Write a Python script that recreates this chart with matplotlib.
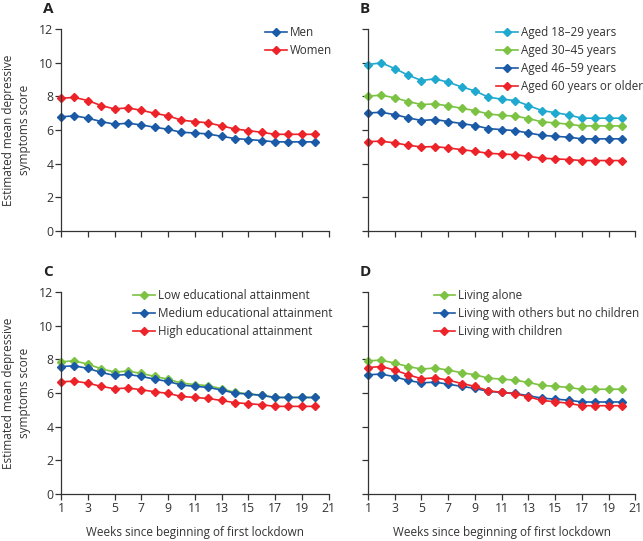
import numpy as np
import matplotlib.pyplot as plt

plt.rcParams['font.family'] = ['Open Sans', 'DejaVu Sans']

weeks = np.arange(1, 21)

# panel A: sex
men = [6.79, 6.85, 6.71, 6.51, 6.35, 6.41, 6.31, 6.17, 6.05, 5.87,
       5.83, 5.77, 5.63, 5.50, 5.44, 5.38, 5.30, 5.30, 5.30, 5.30]
women = [7.90, 7.94, 7.76, 7.46, 7.26, 7.32, 7.18, 7.00, 6.85, 6.59,
         6.51, 6.43, 6.25, 6.07, 5.97, 5.87, 5.75, 5.75, 5.75, 5.75]

# panel B: age
age_18_29 = [9.90, 10.00, 9.66, 9.27, 8.95, 9.05, 8.85, 8.57, 8.33, 7.96,
             7.84, 7.76, 7.46, 7.16, 7.04, 6.90, 6.71, 6.71, 6.71, 6.71]
age_30_45 = [8.02, 8.08, 7.92, 7.70, 7.52, 7.56, 7.44, 7.30, 7.16, 6.96,
             6.88, 6.83, 6.69, 6.49, 6.43, 6.35, 6.25, 6.25, 6.25, 6.25]
age_46_59 = [7.02, 7.06, 6.92, 6.73, 6.57, 6.63, 6.51, 6.39, 6.27, 6.09,
             6.03, 5.97, 5.83, 5.69, 5.63, 5.58, 5.48, 5.48, 5.48, 5.48]
age_60 = [5.32, 5.34, 5.24, 5.10, 5.00, 5.02, 4.94, 4.84, 4.74, 4.62,
          4.58, 4.54, 4.44, 4.33, 4.29, 4.25, 4.19, 4.19, 4.19, 4.19]

# panel C: education
edu_low = [7.86, 7.92, 7.72, 7.45, 7.25, 7.31, 7.17, 6.99, 6.83, 6.59,
           6.51, 6.44, 6.26, 6.04, 5.96, 5.88, 5.74, 5.74, 5.74, 5.74]
edu_med = [7.58, 7.62, 7.47, 7.23, 7.05, 7.11, 6.99, 6.83, 6.69, 6.48,
           6.40, 6.34, 6.18, 6.00, 5.94, 5.86, 5.74, 5.74, 5.74, 5.74]
edu_high = [6.67, 6.71, 6.59, 6.40, 6.26, 6.30, 6.20, 6.08, 5.98, 5.80,
            5.74, 5.68, 5.56, 5.43, 5.37, 5.31, 5.21, 5.21, 5.21, 5.21]

# panel D: living situation
alone = [7.92, 7.96, 7.78, 7.58, 7.43, 7.49, 7.37, 7.21, 7.09, 6.89,
         6.83, 6.77, 6.63, 6.46, 6.40, 6.34, 6.22, 6.23, 6.23, 6.23]
others = [7.09, 7.13, 6.97, 6.75, 6.61, 6.65, 6.53, 6.40, 6.28, 6.10,
          6.04, 5.98, 5.84, 5.70, 5.64, 5.58, 5.47, 5.47, 5.47, 5.47]
children = [7.52, 7.58, 7.37, 7.09, 6.85, 6.91, 6.77, 6.57, 6.40, 6.14,
            6.04, 5.96, 5.78, 5.56, 5.49, 5.39, 5.25, 5.25, 5.25, 5.25]

BLUE = '#1b5aa6'
RED = '#ec2329'
CYAN = '#1fa9cf'
GREEN = '#7cc243'

panels = [
    ('A', [('Men', men, BLUE), ('Women', women, RED)]),
    ('B', [('Aged 18\u201329 years', age_18_29, CYAN),
           ('Aged 30\u201345 years', age_30_45, GREEN),
           ('Aged 46\u201359 years', age_46_59, BLUE),
           ('Aged 60 years or older', age_60, RED)]),
    ('C', [('Low educational attainment', edu_low, GREEN),
           ('Medium educational attainment', edu_med, BLUE),
           ('High educational attainment', edu_high, RED)]),
    ('D', [('Living alone', alone, GREEN),
           ('Living with others but no children', others, BLUE),
           ('Living with children', children, RED)]),
]

fig = plt.figure(figsize=(6.43, 5.41), dpi=100)
lefts = [0.0949, 0.5723]
bottoms = [0.573, 0.0869]
w, h = 0.416, 0.373
leg_x = [0.762, 0.478, 0.27, 0.245]
letter_x = [-0.067, -0.03]

for i, (lab, series) in enumerate(panels):
    row, col = divmod(i, 2)
    ax = fig.add_axes([lefts[col], bottoms[row], w, h])
    for name, vals, c in series:
        ax.plot(weeks, vals, color=c, lw=1.2, marker='D', ms=4.2,
                label=name, clip_on=False)
    ax.set_xlim(1, 21)
    ax.set_ylim(0, 12)
    ax.set_xticks(range(1, 22, 2))
    ax.set_yticks(range(0, 13, 2))
    for s in ['top', 'right']:
        ax.spines[s].set_visible(False)
    for s in ['left', 'bottom']:
        ax.spines[s].set_color('#333333')
        ax.spines[s].set_linewidth(0.9)
    ax.tick_params(direction='out', length=4, width=0.9, color='#333333',
                   labelsize=8.8, labelcolor='#333333', pad=1.5)
    if row == 0:
        ax.tick_params(labelbottom=False)
    else:
        ax.set_xlabel('Weeks since beginning of first lockdown', fontsize=8.5,
                      color='#333333', labelpad=8)
    if col == 1:
        ax.tick_params(labelleft=False)
    else:
        ax.set_ylabel('Estimated mean depressive\nsymptoms score', fontsize=8.5,
                      color='#333333', labelpad=6, linespacing=1.3)
    ax.text(letter_x[col], 1.135, lab, transform=ax.transAxes, fontsize=11,
            fontweight='bold', color='#222222', va='top', ha='left')
    ax.legend(loc='upper left', bbox_to_anchor=(leg_x[i], 1.017), frameon=False,
              fontsize=8.4, handlelength=1.86, handletextpad=0.26,
              labelspacing=0.44, borderaxespad=0, borderpad=0,
              labelcolor='#333333')

fig.savefig('out.png', dpi=100)
